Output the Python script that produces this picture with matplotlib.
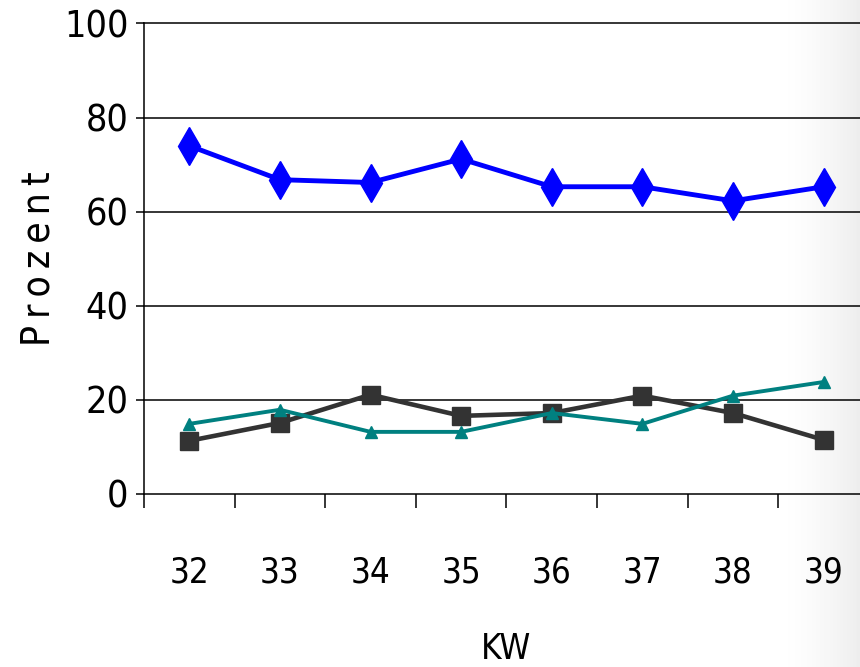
import numpy as np
import matplotlib
matplotlib.use("Agg")
import matplotlib.pyplot as plt

weeks = ["32", "33", "34", "35", "36", "37", "38", "39"]
blue_vals = [74.0, 66.8, 66.2, 71.2, 65.3, 65.3, 62.3, 65.3]
dark_vals = [11.3, 15.1, 21.1, 16.6, 17.2, 20.9, 17.2, 11.5]
teal_vals = [14.9, 17.9, 13.2, 13.2, 17.2, 14.9, 20.9, 23.8]

plt.rcParams['font.family'] = ['DejaVu Sans']
plt.rcParams['font.stretch'] = 'condensed'

fig = plt.figure(figsize=(8.6, 6.67), dpi=100)

# grey shading at the right edge
bg = fig.add_axes([0, 0, 1, 1], zorder=0)
grad = np.concatenate([np.zeros(780), np.linspace(0, 1, 80) ** 1.5])
bg.imshow(grad[None, :], aspect='auto', cmap='Greys', vmin=0, vmax=7,
          extent=[0, 1, 0, 1])
bg.set_xlim(0, 1)
bg.set_ylim(0, 1)
bg.axis('off')

ax = fig.add_axes([0.1674, 0.2594, 0.843, 0.7054], zorder=1)
ax.patch.set_alpha(0)
x = np.arange(len(weeks))

for y in [20, 40, 60, 80, 100]:
    ax.axhline(y, color='black', lw=1.1, zorder=1, clip_on=False)

ax.plot(x, blue_vals, color='#0000ff', lw=3.5, marker='d', ms=19, zorder=3, clip_on=False)
ax.plot(x, dark_vals, color='#333333', lw=3.3, marker='s', ms=12.5, zorder=3, clip_on=False)
ax.plot(x, teal_vals, color='#008080', lw=2.8, marker='^', ms=8, zorder=4, clip_on=False)

ax.set_xlim(-0.5, len(weeks) - 0.5)
ax.set_ylim(0, 100)
ax.set_yticks([0, 20, 40, 60, 80, 100])
ax.tick_params(axis='y', labelsize=27, length=6, width=1.1, direction='out', pad=5)
ax.set_xticks(x)
ax.set_xticklabels(weeks, fontsize=25)
ax.tick_params(axis='x', length=0, pad=44)
ax.set_xticks(np.arange(len(weeks) + 1) - 0.5, minor=True)
ax.tick_params(axis='x', which='minor', length=10, width=1.1, color='black')

for s in ['top', 'right']:
    ax.spines[s].set_visible(False)
ax.spines['left'].set_linewidth(1.1)
ax.spines['bottom'].set_linewidth(1.1)

ax.set_ylabel("P\u2009r\u2009o\u2009z\u2009e\u2009n\u2009t", fontsize=28, labelpad=5)
ax.set_xlabel("KW", fontsize=25, labelpad=31)

fig.savefig("out.png", dpi=100)
